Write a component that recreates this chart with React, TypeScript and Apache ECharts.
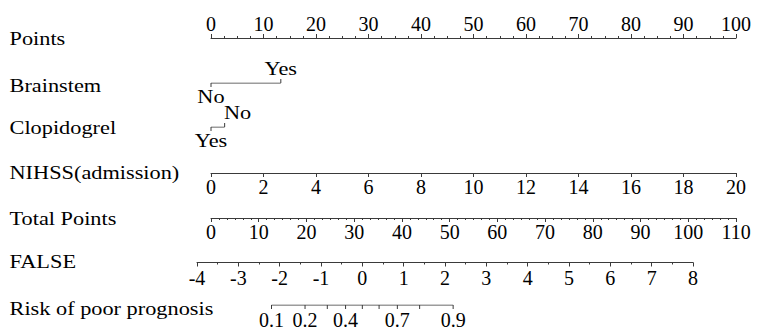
import React, { useEffect, useRef } from "react";
import * as echarts from "echarts";

// ---- data ----
const rowLabels = [
  "Points",
  "Brainstem",
  "Clopidogrel",
  "NIHSS(admission)",
  "Total Points",
  "FALSE",
  "Risk of poor prognosis",
];
const pointsRange = [0, 100];
const pointsStep = 10;
const brainstemLevels = ["No", "Yes"];
const brainstemPoints = [0, 13.3];
const clopidogrelLevels = ["Yes", "No"];
const clopidogrelPoints = [0, 2.6];
const nihssRange = [0, 20];
const nihssStep = 2;
const totalRange = [0, 110];
const totalStep = 10;
const lpRange = [-4, 8];
const lpStep = 1;
const riskTicks = [0.1, 0.2, 0.3, 0.4, 0.5, 0.6, 0.7, 0.8, 0.9];
const riskLabels = ["0.1", "0.2", "0.4", "0.7", "0.9"];

// ---- layout / style ----
const FONT = "Liberation Serif";
const LINE = "#3a3a3a";
const SX = 1.24;
const TICK_FS = 20;
const rowY = [38, 83, 127, 173, 218, 262.5, 305];
const rowTextY = [39, 85.5, 128, 173, 219, 262, 309];
const brainstemSide = [1, -1]; // 1 below, -1 above
const clopidogrelSide = [1, -1];
const clopidogrelDx = [0, 13];
const brainstemDx = [0, 0];

const logit = (p: number) => Math.log(p / (1 - p));

export default function App() {
  const ref = useRef<HTMLDivElement>(null);
  useEffect(() => {
    if (!ref.current) return;
    const chart = echarts.init(ref.current, undefined, { renderer: "svg" });
    const L = 211;
    const W = 525;
    const lpL = 197;
    const lpW = 496;
    const lineStyle = { color: LINE, width: 1 };

    const grids = [
      { left: L, width: W, top: rowY[0], height: 10 },
      { left: L, width: W, top: rowY[1], height: 10 },
      { left: L, width: W, top: rowY[2], height: 10 },
      { left: L, width: W, top: rowY[3] - 10, height: 10 },
      { left: L, width: W, top: rowY[4] - 10, height: 10 },
      { left: lpL, width: lpW, top: rowY[5] - 10, height: 10 },
      { left: lpL, width: lpW, top: rowY[6], height: 10 },
    ].map((g) => ({ ...g, outerBoundsMode: "none", containLabel: false }));

    const visAxis = (gi: number, range: number[], step: number, pos: string, minor: number, margin: number) => ({
      gridIndex: gi,
      type: "value",
      min: range[0],
      max: range[1],
      interval: step,
      position: pos,
      axisLine: { show: true, onZero: false, lineStyle },
      axisTick: { show: true, length: 4, lineStyle },
      minorTick: { show: minor > 0, splitNumber: minor || 5, length: 2, lineStyle },
      axisLabel: { fontSize: TICK_FS, fontFamily: FONT, color: "#000", margin },
      splitLine: { show: false },
      minorSplitLine: { show: false },
    });
    const hidAxis = (gi: number, range: number[]) => ({
      gridIndex: gi,
      type: "value",
      min: range[0],
      max: range[1],
      show: false,
    });

    const xAxis = [
      visAxis(0, pointsRange, pointsStep, "top", 4, 4),
      hidAxis(1, pointsRange),
      hidAxis(2, pointsRange),
      visAxis(3, nihssRange, nihssStep, "bottom", 0, 4),
      visAxis(4, totalRange, totalStep, "bottom", 6, 4),
      visAxis(5, lpRange, lpStep, "bottom", 2, 5),
      hidAxis(6, lpRange),
    ];
    const yAxis = grids.map((_, i) => ({ gridIndex: i, type: "value", min: 0, max: 1, show: false }));

    const catSeries = (gi: number, pts: number[], levels: string[], side: number[], dx: number[]) => [
      {
        type: "line",
        xAxisIndex: gi,
        yAxisIndex: gi,
        data: pts.map((p) => [p, 1]),
        symbol: "none",
        silent: true,
        lineStyle,
      },
      {
        type: "custom",
        xAxisIndex: gi,
        yAxisIndex: gi,
        silent: true,
        data: pts.map((p) => [p, 1]),
        renderItem: (params: any, api: any) => {
          const i = params.dataIndex;
          const c = api.coord([api.value(0), 1]);
          const d = side[i];
          return {
            type: "group",
            children: [
              {
                type: "line",
                shape: { x1: c[0], y1: c[1], x2: c[0], y2: c[1] + d * 4 },
                style: { stroke: LINE, lineWidth: 1 },
              },
              {
                type: "text",
                x: c[0] + dx[i],
                y: c[1] + d * 14,
                scaleX: SX,
                style: {
                  text: levels[i],
                  fontSize: 18,
                  fontFamily: FONT,
                  fill: "#000",
                  align: "center",
                  verticalAlign: "middle",
                  textAlign: "center",
                  textVerticalAlign: "middle",
                },
              },
            ],
          };
        },
      },
    ];

    const riskSeries = [
      {
        type: "line",
        xAxisIndex: 6,
        yAxisIndex: 6,
        data: [riskTicks[0], riskTicks[riskTicks.length - 1]].map((p) => [logit(p), 1]),
        symbol: "none",
        silent: true,
        lineStyle,
      },
      {
        type: "custom",
        xAxisIndex: 6,
        yAxisIndex: 6,
        silent: true,
        data: riskTicks.map((p) => [logit(p), 1]),
        renderItem: (params: any, api: any) => {
          const i = params.dataIndex;
          const c = api.coord([api.value(0), 1]);
          const txt = String(riskTicks[i]);
          const children: any[] = [
            {
              type: "line",
              shape: { x1: c[0], y1: c[1], x2: c[0], y2: c[1] + 4 },
              style: { stroke: LINE, lineWidth: 1 },
            },
          ];
          if (riskLabels.includes(txt)) {
            children.push({
              type: "text",
              x: c[0],
              y: c[1] + 15,
              style: {
                text: txt,
                fontSize: TICK_FS,
                fontFamily: FONT,
                fill: "#000",
                align: "center",
                verticalAlign: "middle",
                textAlign: "center",
                textVerticalAlign: "middle",
              },
            });
          }
          return { type: "group", children };
        },
      },
    ];

    const graphic = rowLabels.map((t, i) => ({
      type: "text",
      x: 9.5,
      y: rowTextY[i],
      scaleX: SX,
      silent: true,
      style: {
        text: t,
        fontSize: 18,
        fontFamily: FONT,
        fill: "#000",
        align: "left",
        verticalAlign: "middle",
        textAlign: "left",
        textVerticalAlign: "middle",
      },
    }));

    chart.setOption({
      animation: false,
      backgroundColor: "#fff",
      grid: grids,
      xAxis,
      yAxis,
      graphic,
      series: [
        ...catSeries(1, brainstemPoints, brainstemLevels, brainstemSide, brainstemDx),
        ...catSeries(2, clopidogrelPoints, clopidogrelLevels, clopidogrelSide, clopidogrelDx),
        ...riskSeries,
      ],
    } as any);
    return () => chart.dispose();
  }, []);
  return (
    <div
      ref={ref}
      style={{ position: "fixed", left: 0, top: 0, width: 757, height: 331, background: "#fff" }}
    />
  );
}
